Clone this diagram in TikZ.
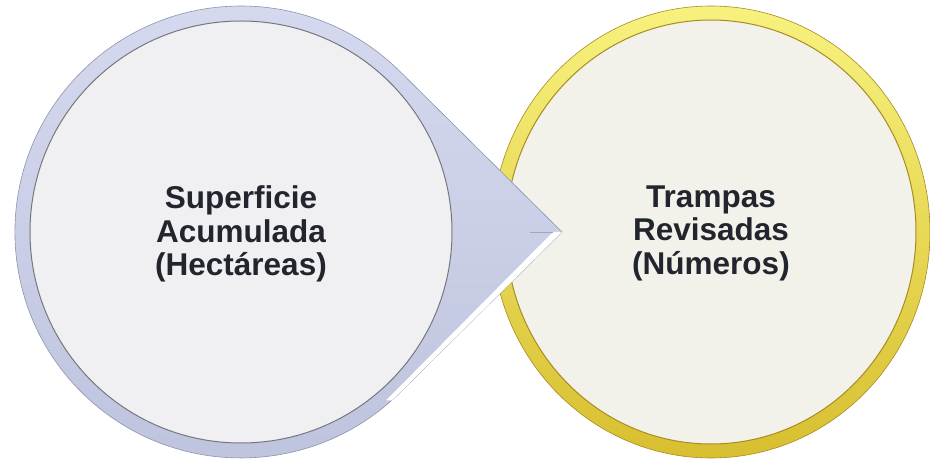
\documentclass[tikz,border=0pt]{standalone}
\usepackage{fontspec}
\setmainfont{Liberation Sans}
\usetikzlibrary{calc}

\definecolor{ringtop}{HTML}{D6DAEF}
\definecolor{ringbot}{HTML}{BEC3DE}
\definecolor{ringedge}{HTML}{8E93AC}
\definecolor{greyface}{HTML}{F0F0F2}
\definecolor{greyedge}{HTML}{76777E}
\definecolor{goldtop}{HTML}{F7F27E}
\definecolor{goldbot}{HTML}{D8BF30}
\definecolor{goldedge}{HTML}{A88B22}
\definecolor{creamface}{HTML}{F3F2EA}
\definecolor{textdark}{HTML}{22252E}

\begin{document}
\begin{tikzpicture}[x=1pt, y=1pt,
    circletext/.style={font=\bfseries\fontsize{31.5}{33.5}\selectfont,
      text=textdark, align=center}]
  \useasboundingbox (0,0) rectangle (930,464);

  % right circle
  \begin{scope}[shift={(711,232)}]
    \shadedraw[top color=goldtop, bottom color=goldbot, draw=goldedge, line width=.6]
      (0,0) ellipse [x radius=219, y radius=226];
    \filldraw[fill=creamface, draw=goldedge, line width=1]
      (0,0) ellipse [x radius=205, y radius=212];
  \end{scope}

  % left circle with pointer
  \coordinate (tip) at (562,232);
  \coordinate (upper) at (400,392.5);
  \coordinate (lower) at (400,71.5);
  \shadedraw[top color=ringtop, bottom color=ringbot, draw=ringedge, line width=.6]
    (tip) -- (upper) arc[start angle=45.25, end angle=314.75, radius=226] -- cycle;
  \begin{scope}
    \clip (tip) -- (upper) arc[start angle=45.25, end angle=314.75, radius=226] -- cycle;
    \fill[white] ($(tip)+(3,0)$) -- ($(lower)+(-7,-8)$) -- ($(lower)+(-14,-8)$)
      -- ($(tip)+(-9,0)$) -- cycle;
  \end{scope}
  \draw[ringbot!85!black, line width=.4] ($(tip)+(-9,0)$) -- ($(tip)+(-32,0)$);
  \filldraw[fill=greyface, draw=greyedge, line width=1] (241,232) circle (211);

  \node[circletext] (superficie) at (241,230) {Superficie\\Acumulada\\(Hectáreas)};
  \node[circletext] (trampas) at (711,231) {Trampas\\Revisadas\\(Números)};
\end{tikzpicture}
\end{document}
